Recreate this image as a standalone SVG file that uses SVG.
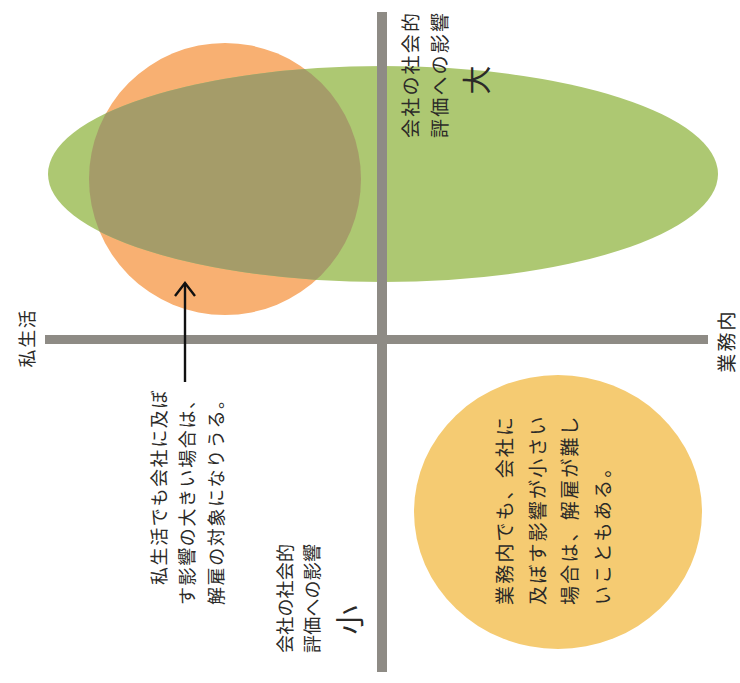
<svg xmlns="http://www.w3.org/2000/svg" width="740" height="683" viewBox="0 0 740 683">
<style>
text{font-family:"Noto Sans CJK JP","Noto Sans",sans-serif;fill:#2b2a28;}
.t18{font-size:18px;letter-spacing:1.6px;}
.t19{font-size:19px;letter-spacing:2.2px;}
.t17{font-size:18px;letter-spacing:0.2px;}
.big{font-size:29px;}
.axis{fill:#8e8b85;}
</style>
<defs>
<clipPath id="clipOrange"><circle cx="225" cy="179" r="136"/></clipPath>
<marker id="arrow" viewBox="-15 -12 17 24" refX="0" refY="0" markerWidth="17" markerHeight="24" markerUnits="userSpaceOnUse" orient="auto">
<path d="M -13 -10 L 0 0 L -13 10" fill="none" stroke="#111" stroke-width="2.4"/>
</marker>
</defs>
<rect width="740" height="683" fill="#ffffff"/>

<g id="private-life-area">
<circle cx="225" cy="179" r="136" fill="#f8b072"/>
</g>
<g id="big-impact-area">
<ellipse cx="383" cy="174" rx="335" ry="108" fill="#adc872"/>
<ellipse cx="383" cy="174" rx="335" ry="108" fill="#a59c69" clip-path="url(#clipOrange)"/>
</g>
<g id="work-small-impact-area">
<ellipse cx="558" cy="512" rx="144" ry="137" fill="#f5cb72"/>
</g>

<g id="axes">
<rect class="axis" x="377" y="12" width="10" height="660"/>
<rect class="axis" x="45" y="335" width="663" height="9"/>
</g>

<g id="connectors">
<line x1="185" y1="382" x2="185" y2="283" stroke="#111" stroke-width="2.4" marker-end="url(#arrow)"/>
</g>

<g id="label-top" transform="translate(0,138) rotate(-90)">
<text class="t19" x="0" y="418">会社の社会的</text>
<text class="t19" x="0" y="447">評価への影響</text>
<text class="big" x="58" y="488" text-anchor="middle">大</text>
</g>

<g id="label-bottom" transform="translate(0,653) rotate(-90)">
<text class="t17" x="0" y="292">会社の社会的</text>
<text class="t17" x="0" y="319">評価への影響</text>
<text class="big" x="33" y="361" text-anchor="middle">小</text>
</g>

<g id="label-private" transform="translate(34,338) rotate(-90)">
<text class="t18" x="0" y="0" text-anchor="middle">私生活</text>
</g>

<g id="label-work" transform="translate(734,341) rotate(-90)">
<text class="t19" x="0" y="0" text-anchor="middle">業務内</text>
</g>

<g id="note-private" transform="translate(0,605) rotate(-90)">
<text class="t18" x="20" y="166">私生活でも会社に及ぼ</text>
<text class="t18" x="0" y="194">す影響の大きい場合は、</text>
<text class="t18" x="0" y="223">解雇の対象になりうる。</text>
</g>

<g id="note-work" transform="translate(0,605) rotate(-90)">
<text class="t19" x="0" y="512">業務内でも、会社に</text>
<text class="t19" x="0" y="545">及ぼす影響が小さい</text>
<text class="t19" x="0" y="577">場合は、解雇が難し</text>
<text class="t19" x="0" y="610">いこともある。</text>
</g>
</svg>
